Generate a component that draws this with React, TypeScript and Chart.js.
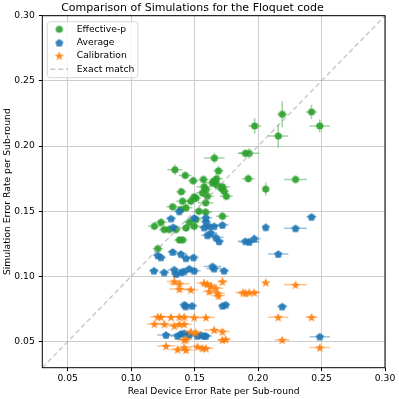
import React, { useEffect, useRef } from "react";
import { Chart, registerables } from "chart.js";

Chart.register(...registerables);

// [real device rate, simulated rate, x error, y error]
const effectiveP: number[][] = [
  [0.1973, 0.2154, 0.005, 0.006],
  [0.219, 0.2244, 0.004, 0.01],
  [0.2159, 0.2077, 0.008, 0.009],
  [0.2421, 0.2262, 0.0045, 0.0055],
  [0.2486, 0.2154, 0.008, 0.005],
  [0.19, 0.1944, 0.006, 0.003],
  [0.193, 0.1944, 0.008, 0.004],
  [0.1923, 0.175, 0.005, 0.003],
  [0.206, 0.167, 0.002, 0.005],
  [0.2295, 0.1744, 0.009, 0.003],
  [0.1656, 0.1908, 0.008, 0.004],
  [0.1345, 0.1818, 0.006, 0.004],
  [0.1426, 0.1775, 0.005, 0.003],
  [0.1489, 0.1734, 0.004, 0.003],
  [0.157, 0.1744, 0.004, 0.003],
  [0.1688, 0.181, 0.004, 0.004],
  [0.1672, 0.1749, 0.005, 0.004],
  [0.1641, 0.1718, 0.006, 0.003],
  [0.1654, 0.1731, 0.004, 0.003],
  [0.1672, 0.1705, 0.005, 0.003],
  [0.1719, 0.1688, 0.006, 0.003],
  [0.1732, 0.1654, 0.004, 0.003],
  [0.175, 0.1615, 0.005, 0.003],
  [0.1706, 0.168, 0.005, 0.003],
  [0.1575, 0.1688, 0.006, 0.004],
  [0.1589, 0.1667, 0.004, 0.003],
  [0.1395, 0.165, 0.004, 0.003],
  [0.1562, 0.1641, 0.005, 0.003],
  [0.1601, 0.1615, 0.005, 0.003],
  [0.1497, 0.161, 0.004, 0.003],
  [0.1405, 0.1577, 0.005, 0.003],
  [0.147, 0.1577, 0.005, 0.003],
  [0.151, 0.16, 0.004, 0.003],
  [0.1587, 0.1565, 0.006, 0.003],
  [0.1327, 0.1534, 0.005, 0.003],
  [0.1392, 0.1513, 0.004, 0.003],
  [0.1432, 0.1526, 0.005, 0.003],
  [0.1534, 0.15, 0.004, 0.003],
  [0.1587, 0.1493, 0.005, 0.003],
  [0.1719, 0.1462, 0.005, 0.003],
  [0.1235, 0.1415, 0.005, 0.003],
  [0.1183, 0.1385, 0.005, 0.003],
  [0.126, 0.136, 0.004, 0.003],
  [0.13, 0.136, 0.005, 0.003],
  [0.1353, 0.136, 0.004, 0.003],
  [0.1432, 0.1372, 0.005, 0.003],
  [0.1497, 0.1385, 0.005, 0.003],
  [0.1458, 0.1415, 0.004, 0.003],
  [0.151, 0.1436, 0.005, 0.003],
  [0.138, 0.128, 0.004, 0.003],
  [0.1405, 0.128, 0.004, 0.003],
  [0.121, 0.1213, 0.004, 0.003],
];

const average: number[][] = [
  [0.2421, 0.1457, 0.004, 0.002],
  [0.206, 0.1377, 0.002, 0.003],
  [0.2295, 0.1369, 0.009, 0.002],
  [0.19, 0.127, 0.006, 0.002],
  [0.193, 0.1265, 0.008, 0.002],
  [0.197, 0.129, 0.005, 0.003],
  [0.2159, 0.1172, 0.008, 0.002],
  [0.219, 0.0769, 0.004, 0.002],
  [0.2486, 0.0538, 0.008, 0.002],
  [0.1379, 0.15, 0.004, 0.003],
  [0.1314, 0.1444, 0.004, 0.002],
  [0.1497, 0.1449, 0.004, 0.002],
  [0.1589, 0.145, 0.005, 0.002],
  [0.1589, 0.142, 0.004, 0.003],
  [0.1332, 0.1377, 0.005, 0.002],
  [0.1575, 0.1375, 0.004, 0.002],
  [0.1615, 0.1385, 0.006, 0.002],
  [0.1654, 0.1385, 0.005, 0.002],
  [0.1719, 0.1395, 0.005, 0.002],
  [0.1601, 0.1315, 0.005, 0.002],
  [0.1628, 0.1334, 0.005, 0.002],
  [0.1667, 0.13, 0.006, 0.003],
  [0.1693, 0.1269, 0.004, 0.003],
  [0.121, 0.1162, 0.004, 0.002],
  [0.1235, 0.1146, 0.004, 0.002],
  [0.1327, 0.1188, 0.004, 0.002],
  [0.1392, 0.1172, 0.005, 0.002],
  [0.1432, 0.114, 0.004, 0.002],
  [0.1491, 0.1146, 0.004, 0.002],
  [0.118, 0.1044, 0.004, 0.002],
  [0.126, 0.1031, 0.004, 0.002],
  [0.134, 0.1052, 0.005, 0.002],
  [0.1353, 0.1018, 0.004, 0.002],
  [0.1392, 0.1031, 0.005, 0.002],
  [0.1418, 0.1038, 0.004, 0.002],
  [0.1458, 0.1059, 0.006, 0.002],
  [0.1497, 0.1044, 0.005, 0.002],
  [0.1641, 0.1077, 0.007, 0.002],
  [0.1654, 0.106, 0.006, 0.002],
  [0.1732, 0.1044, 0.004, 0.002],
  [0.142, 0.0783, 0.004, 0.002],
  [0.143, 0.077, 0.004, 0.002],
  [0.148, 0.0775, 0.004, 0.002],
  [0.172, 0.0775, 0.003, 0.002],
  [0.1745, 0.0783, 0.003, 0.002],
  [0.1275, 0.0551, 0.007, 0.002],
  [0.1366, 0.0544, 0.006, 0.002],
  [0.1392, 0.056, 0.005, 0.002],
  [0.1418, 0.0565, 0.005, 0.002],
  [0.1458, 0.0552, 0.006, 0.002],
  [0.1523, 0.0544, 0.006, 0.002],
  [0.155, 0.0552, 0.006, 0.002],
  [0.1575, 0.0544, 0.005, 0.002],
  [0.1589, 0.0544, 0.005, 0.002],
];

const calibration: number[][] = [
  [0.206, 0.0954, 0.002, 0.002],
  [0.2295, 0.0936, 0.009, 0.002],
  [0.188, 0.0877, 0.006, 0.002],
  [0.19, 0.0872, 0.006, 0.003],
  [0.193, 0.0877, 0.008, 0.002],
  [0.197, 0.0877, 0.005, 0.002],
  [0.2159, 0.0687, 0.008, 0.002],
  [0.2421, 0.0687, 0.005, 0.002],
  [0.219, 0.0513, 0.006, 0.002],
  [0.2486, 0.0454, 0.008, 0.002],
  [0.134, 0.0962, 0.006, 0.003],
  [0.138, 0.0944, 0.008, 0.003],
  [0.1575, 0.095, 0.006, 0.003],
  [0.1601, 0.094, 0.006, 0.003],
  [0.1628, 0.0925, 0.005, 0.003],
  [0.1667, 0.091, 0.006, 0.003],
  [0.1719, 0.0962, 0.004, 0.003],
  [0.138, 0.0903, 0.008, 0.002],
  [0.147, 0.0898, 0.006, 0.002],
  [0.1615, 0.0885, 0.005, 0.003],
  [0.168, 0.0872, 0.006, 0.003],
  [0.1688, 0.0852, 0.005, 0.003],
  [0.121, 0.069, 0.006, 0.002],
  [0.1235, 0.069, 0.006, 0.002],
  [0.1314, 0.0688, 0.006, 0.002],
  [0.138, 0.069, 0.007, 0.002],
  [0.1418, 0.069, 0.006, 0.002],
  [0.1497, 0.0686, 0.006, 0.002],
  [0.1589, 0.0686, 0.007, 0.002],
  [0.1183, 0.0636, 0.006, 0.002],
  [0.1262, 0.0634, 0.006, 0.002],
  [0.134, 0.0621, 0.006, 0.002],
  [0.138, 0.0634, 0.006, 0.002],
  [0.1418, 0.0634, 0.006, 0.002],
  [0.1471, 0.0577, 0.006, 0.002],
  [0.151, 0.0569, 0.006, 0.002],
  [0.1654, 0.059, 0.008, 0.002],
  [0.1719, 0.0577, 0.006, 0.002],
  [0.1418, 0.0513, 0.005, 0.002],
  [0.1432, 0.0518, 0.005, 0.002],
  [0.1719, 0.0513, 0.004, 0.002],
  [0.1745, 0.0518, 0.004, 0.002],
  [0.1275, 0.0467, 0.007, 0.002],
  [0.1366, 0.044, 0.006, 0.002],
  [0.1418, 0.0455, 0.006, 0.002],
  [0.1432, 0.0436, 0.006, 0.002],
  [0.1523, 0.0462, 0.006, 0.002],
  [0.1562, 0.0449, 0.006, 0.002],
  [0.1589, 0.0449, 0.006, 0.002],
];

const exactMatch = [0.03, 0.3];
const axisMin = 0.03;
const axisMax = 0.3;
const tickStep = 0.05;

const titleText = "Comparison of Simulations for the Floquet code";
const xLabel = "Real Device Error Rate per Sub-round";
const yLabel = "Simulation Error Rate per Sub-round";
const legendLabels = ["Effective-p", "Average", "Calibration", "Exact match"];

const GREEN = "#2ca02c";
const BLUE = "#1f77b4";
const ORANGE = "#ff7f0e";
const FONT = "'DejaVu Sans', Verdana, sans-serif";

function makeMarker(shape: string, color: string) {
  const s = 14;
  const c = document.createElement("canvas");
  c.width = s;
  c.height = s;
  const ctx = c.getContext("2d")!;
  ctx.fillStyle = color;
  ctx.globalAlpha = 0.9;
  const cx = s / 2;
  const cy = s / 2;
  ctx.beginPath();
  if (shape === "circle") {
    ctx.arc(cx, cy, 3.6, 0, Math.PI * 2);
  } else if (shape === "pentagon") {
    const r = 4.2;
    for (let i = 0; i < 5; i++) {
      const a = -Math.PI / 2 + (i * 2 * Math.PI) / 5;
      const px = cx + r * Math.cos(a);
      const py = cy + 0.4 + r * Math.sin(a);
      if (i === 0) ctx.moveTo(px, py);
      else ctx.lineTo(px, py);
    }
  } else {
    const ro = 4.9;
    const ri = ro * 0.42;
    for (let i = 0; i < 10; i++) {
      const a = -Math.PI / 2 + (i * Math.PI) / 5;
      const r = i % 2 === 0 ? ro : ri;
      const px = cx + r * Math.cos(a);
      const py = cy + 0.5 + r * Math.sin(a);
      if (i === 0) ctx.moveTo(px, py);
      else ctx.lineTo(px, py);
    }
  }
  ctx.closePath();
  ctx.fill();
  return c;
}

function hexA(hex: string, a: number) {
  const r = parseInt(hex.slice(1, 3), 16);
  const g = parseInt(hex.slice(3, 5), 16);
  const b = parseInt(hex.slice(5, 7), 16);
  return `rgba(${r},${g},${b},${a})`;
}

export default function App() {
  const ref = useRef<HTMLCanvasElement>(null);

  useEffect(() => {
    document.body.style.margin = "0";
    const canvas = ref.current!;
    const markers = {
      eff: makeMarker("circle", GREEN),
      avg: makeMarker("pentagon", BLUE),
      cal: makeMarker("star", ORANGE),
    };

    const errorBars = {
      id: "errorBars",
      beforeDatasetDraw(chart: any, args: any) {
        const ds = chart.data.datasets[args.index];
        if (!ds.errs) return;
        const { ctx, chartArea } = chart;
        const xs = chart.scales.x;
        const ys = chart.scales.y;
        ctx.save();
        ctx.beginPath();
        ctx.rect(chartArea.left, chartArea.top, chartArea.right - chartArea.left, chartArea.bottom - chartArea.top);
        ctx.clip();
        ctx.strokeStyle = ds.errColor;
        ctx.lineWidth = 1.5;
        for (const p of ds.errs as number[][]) {
          const px = xs.getPixelForValue(p[0]);
          const py = ys.getPixelForValue(p[1]);
          ctx.beginPath();
          ctx.moveTo(xs.getPixelForValue(p[0] - p[2]), py);
          ctx.lineTo(xs.getPixelForValue(p[0] + p[2]), py);
          ctx.moveTo(px, ys.getPixelForValue(p[1] - p[3]));
          ctx.lineTo(px, ys.getPixelForValue(p[1] + p[3]));
          ctx.stroke();
        }
        ctx.restore();
      },
    };

    const frameAndLegend = {
      id: "frameAndLegend",
      afterDraw(chart: any) {
        const { ctx, chartArea } = chart;
        ctx.save();
        ctx.strokeStyle = "#000";
        ctx.lineWidth = 1;
        ctx.strokeRect(chartArea.left, chartArea.top, chartArea.right - chartArea.left, chartArea.bottom - chartArea.top);

        // legend box
        const lx = chartArea.left + 5;
        const ly = chartArea.top + 6;
        const lw = 90.5;
        const lh = 56;
        ctx.beginPath();
        ctx.roundRect(lx, ly, lw, lh, 3);
        ctx.fillStyle = "rgba(255,255,255,0.8)";
        ctx.fill();
        ctx.strokeStyle = "#d6d6d6";
        ctx.lineWidth = 1;
        ctx.stroke();

        const mx = lx + 12;
        const tx = lx + 29.5;
        const rows = [ly + 7.6, ly + 21, ly + 34, ly + 47.6];
        const imgs = [markers.eff, markers.avg, markers.cal];
        imgs.forEach((img, i) => {
          ctx.drawImage(img, mx - img.width / 2, rows[i] - img.height / 2);
        });
        ctx.beginPath();
        ctx.setLineDash([5, 3]);
        ctx.strokeStyle = "rgba(160,160,160,0.6)";
        ctx.lineWidth = 1.5;
        ctx.moveTo(mx - 9, rows[3]);
        ctx.lineTo(mx + 9, rows[3]);
        ctx.stroke();
        ctx.setLineDash([]);

        ctx.fillStyle = "#000";
        ctx.font = `9.2px ${FONT}`;
        ctx.textAlign = "left";
        ctx.textBaseline = "middle";
        legendLabels.forEach((t, i) => ctx.fillText(t, tx, rows[i]));
        ctx.restore();
      },
    };

    const toPts = (arr: number[][]) => arr.map((p) => ({ x: p[0], y: p[1] }));

    const chart = new Chart(canvas, {
      type: "scatter",
      data: {
        datasets: [
          {
            type: "line",
            label: legendLabels[3],
            data: exactMatch.map((v) => ({ x: v, y: v })),
            borderColor: "rgba(160,160,160,0.55)",
            borderWidth: 1.5,
            borderDash: [5, 3],
            pointRadius: 0,
            order: 0,
          } as any,
          {
            label: legendLabels[2],
            data: toPts(calibration),
            pointStyle: markers.cal,
            errs: calibration,
            errColor: hexA(ORANGE, 0.45),
            order: 1,
          } as any,
          {
            label: legendLabels[1],
            data: toPts(average),
            pointStyle: markers.avg,
            errs: average,
            errColor: hexA(BLUE, 0.45),
            order: 2,
          } as any,
          {
            label: legendLabels[0],
            data: toPts(effectiveP),
            pointStyle: markers.eff,
            errs: effectiveP,
            errColor: hexA(GREEN, 0.45),
            order: 3,
          } as any,
        ],
      },
      options: {
        animation: false,
        responsive: false,
        devicePixelRatio: 1,
        layout: { padding: { left: 0, right: 14, top: 0, bottom: 0 } },
        plugins: {
          legend: { display: false },
          tooltip: { enabled: false },
          title: {
            display: true,
            text: titleText,
            color: "#000",
            font: { family: FONT, size: 11, weight: "normal", lineHeight: 1 },
            padding: { top: 2.6, bottom: 2.1 },
          },
        },
        scales: {
          x: {
            type: "linear",
            min: axisMin,
            max: axisMax,
            afterFit: (s: any) => {
              s.height = 31.3;
            },
            border: { display: false },
            grid: { color: "#cccccc", lineWidth: 1, tickColor: "#000", tickLength: 3.5, tickWidth: 1 },
            ticks: {
              stepSize: tickStep,
              includeBounds: false,
              color: "#000",
              padding: 2,
              maxRotation: 0,
              font: { family: FONT, size: 9.2 },
              callback: (v: any) => Number(v).toFixed(2),
            },
            title: {
              display: true,
              text: xLabel,
              color: "#000",
              font: { family: FONT, size: 9.2 },
              padding: { top: 0, bottom: 1.5 },
            },
          },
          y: {
            type: "linear",
            min: axisMin,
            max: axisMax,
            afterFit: (s: any) => {
              s.width = 42.3;
            },
            border: { display: false },
            grid: { color: "#cccccc", lineWidth: 1, tickColor: "#000", tickLength: 3.5, tickWidth: 1 },
            ticks: {
              stepSize: tickStep,
              includeBounds: false,
              color: "#000",
              padding: 4,
              font: { family: FONT, size: 9.2 },
              callback: (v: any) => Number(v).toFixed(2),
            },
            title: {
              display: true,
              text: yLabel,
              color: "#000",
              font: { family: FONT, size: 9.2 },
              padding: { top: 2.5, bottom: 0 },
            },
          },
        },
      } as any,
      plugins: [errorBars, frameAndLegend],
    });

    return () => chart.destroy();
  }, []);

  return (
    <div style={{ width: 399, height: 399 }}>
      <canvas ref={ref} width={399} height={399} style={{ display: "block" }} />
    </div>
  );
}
